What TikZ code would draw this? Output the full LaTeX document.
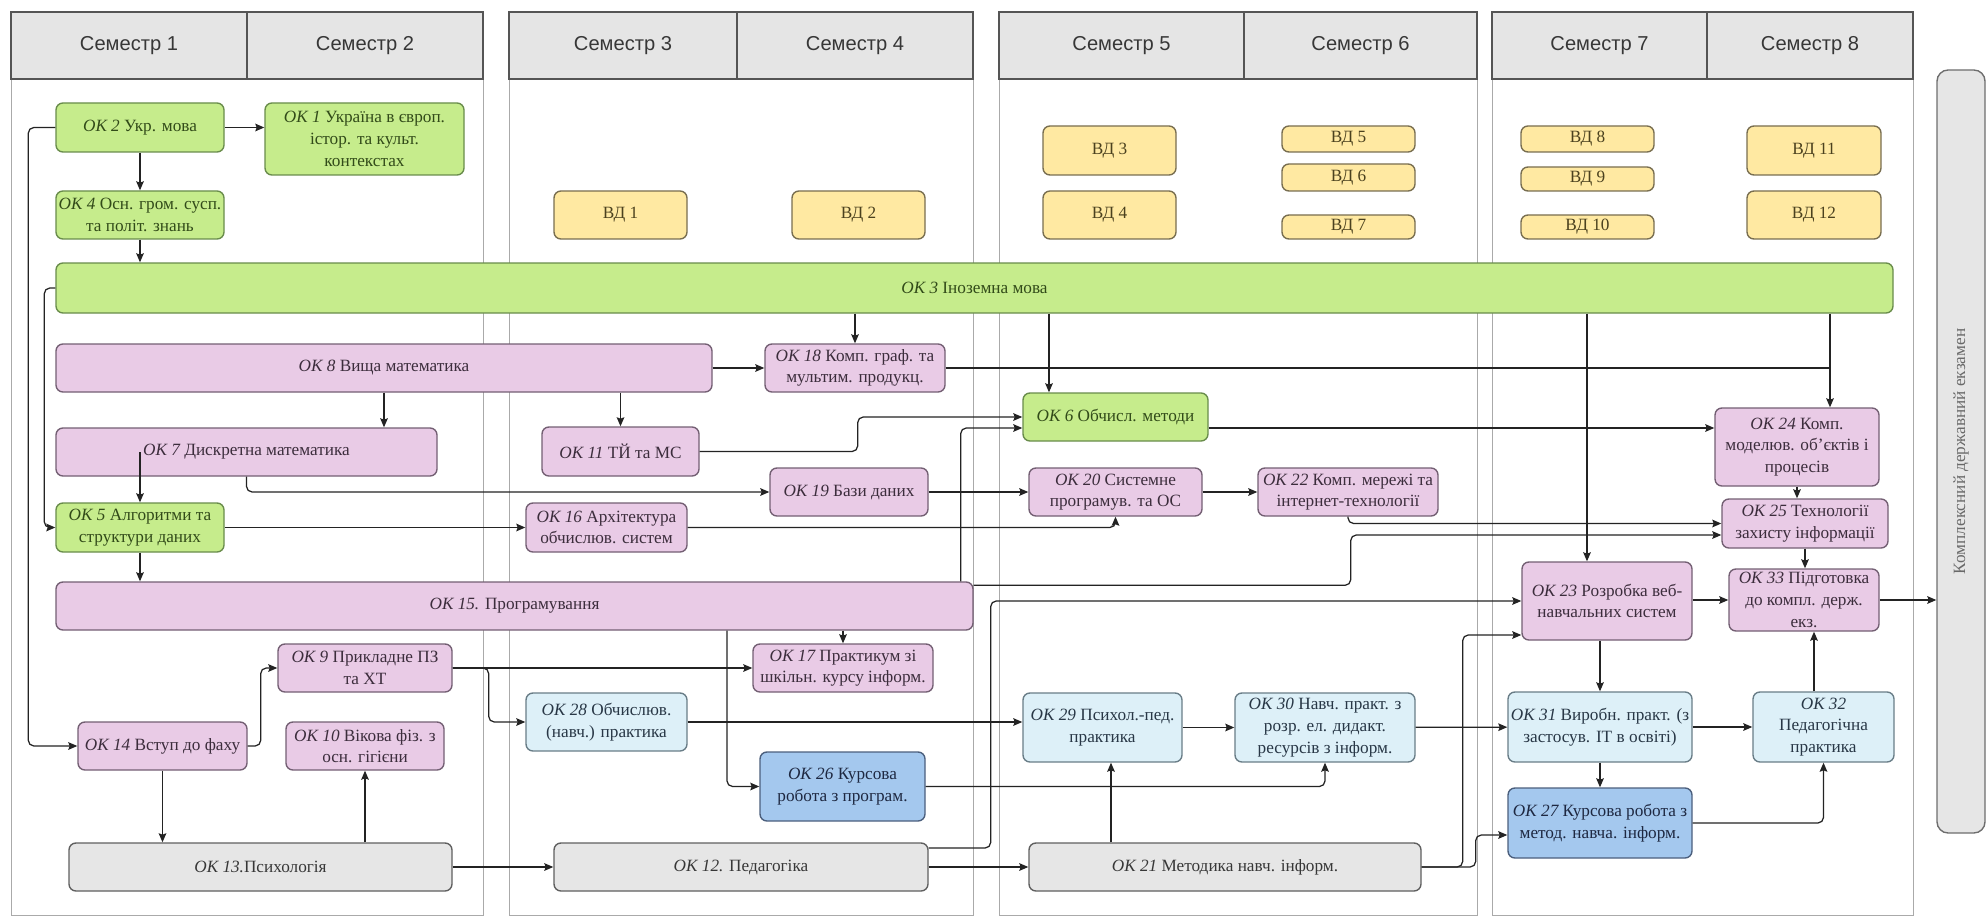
\documentclass[tikz,border=0pt]{standalone}
\usepackage{fontspec}
\setmainfont{Liberation Serif}
\newfontfamily\headfont{Liberation Sans}
\usepackage{tikz}
\usetikzlibrary{arrows.meta,calc}

\definecolor{genfill}{RGB}{198,236,140}
\definecolor{genline}{RGB}{105,140,75}
\definecolor{gentext}{RGB}{50,75,25}
\definecolor{spfill}{RGB}{233,203,230}
\definecolor{spline}{RGB}{115,95,115}
\definecolor{sptext}{RGB}{60,45,60}
\definecolor{elfill}{RGB}{255,233,162}
\definecolor{elline}{RGB}{120,110,80}
\definecolor{eltext}{RGB}{75,65,30}
\definecolor{prfill}{RGB}{221,240,248}
\definecolor{prline}{RGB}{105,125,135}
\definecolor{prtext}{RGB}{40,55,70}
\definecolor{cwfill}{RGB}{164,200,238}
\definecolor{cwline}{RGB}{75,95,125}
\definecolor{cwtext}{RGB}{30,40,65}
\definecolor{pdfill}{RGB}{230,230,230}
\definecolor{pdline}{RGB}{95,95,95}
\definecolor{pdtext}{RGB}{55,55,55}
\definecolor{exline}{RGB}{110,110,110}
\definecolor{extext}{RGB}{105,105,105}
\definecolor{headfill}{RGB}{229,229,229}
\definecolor{headline}{RGB}{85,85,85}
\definecolor{headtext}{RGB}{55,55,55}
\definecolor{panelline}{RGB}{170,170,170}
\definecolor{linecol}{RGB}{35,35,35}

\newcommand{\okn}[1]{{\itshape ОК~#1}}

\begin{document}
\begin{tikzpicture}[x=0.72pt, y=-0.72pt, font=\fontsize{12.4}{15.6}\selectfont, >={Stealth[length=6.5pt,width=5.5pt,inset=1pt]}]
\tikzset{
  wh/.style 2 args={minimum width=#1*0.72pt, minimum height=#2*0.72pt},
  colbody/.style={draw=panelline, line width=0.6pt},
  semhead/.style={draw=headline, fill=headfill, line width=1pt, text=headtext, font=\headfont\fontsize{14.5}{17}\selectfont},
  base/.style={draw, align=center, line width=1pt, rounded corners=5pt, inner sep=1pt},
  general/.style={base, fill=genfill, draw=genline, text=gentext},
  special/.style={base, fill=spfill, draw=spline, text=sptext},
  elective/.style={base, fill=elfill, draw=elline, text=eltext},
  practice/.style={base, fill=prfill, draw=prline, text=prtext},
  coursework/.style={base, fill=cwfill, draw=cwline, text=cwtext},
  pedagogy/.style={base, fill=pdfill, draw=pdline, text=pdtext},
  exam/.style={base, rounded corners=8pt, fill=pdfill, draw=exline, text=extext},
  arrow/.style={->, line width=0.9pt, draw=linecol, rounded corners=4pt},
  wire/.style={line width=0.9pt, draw=linecol, rounded corners=4pt},
}
\useasboundingbox (0,0) rectangle (1987,918);

% Semester columns
\node[colbody, wh={472}{903}] (col12) at (247,463.5) {};
\node[colbody, wh={464}{903}] (col34) at (741,463.5) {};
\node[colbody, wh={478}{903}] (col56) at (1238,463.5) {};
\node[colbody, wh={421}{903}] (col78) at (1702.5,463.5) {};
\node[semhead, wh={236}{67}] (sem1) at (129,45.5) {Семестр 1};
\node[semhead, wh={236}{67}] (sem2) at (365,45.5) {Семестр 2};
\node[semhead, wh={228}{67}] (sem3) at (623,45.5) {Семестр 3};
\node[semhead, wh={236}{67}] (sem4) at (855,45.5) {Семестр 4};
\node[semhead, wh={245}{67}] (sem5) at (1121.5,45.5) {Семестр 5};
\node[semhead, wh={233}{67}] (sem6) at (1360.5,45.5) {Семестр 6};
\node[semhead, wh={215}{67}] (sem7) at (1599.5,45.5) {Семестр 7};
\node[semhead, wh={206}{67}] (sem8) at (1810,45.5) {Семестр 8};

% Electives
\node[elective, wh={133}{48}] (vd1) at (620.5,215) {ВД 1};
\node[elective, wh={133}{48}] (vd2) at (858.5,215) {ВД 2};
\node[elective, wh={133}{49}] (vd3) at (1109.5,150.5) {ВД 3};
\node[elective, wh={133}{48}] (vd4) at (1109.5,215) {ВД 4};
\node[elective, wh={133}{26}] (vd5) at (1348.5,139) {ВД 5};
\node[elective, wh={133}{27}] (vd6) at (1348.5,177.5) {ВД 6};
\node[elective, wh={133}{24}] (vd7) at (1348.5,227) {ВД 7};
\node[elective, wh={133}{26}] (vd8) at (1587.5,139) {ВД 8};
\node[elective, wh={133}{24}] (vd9) at (1587.5,179) {ВД 9};
\node[elective, wh={133}{24}] (vd10) at (1587.5,227) {ВД 10};
\node[elective, wh={134}{49}] (vd11) at (1814,150.5) {ВД 11};
\node[elective, wh={134}{48}] (vd12) at (1814,215) {ВД 12};

% General courses
\node[general, wh={168}{49}] (ok2) at (140,127.5) {\okn{2} Укр. мова};
\node[general, wh={199}{72}] (ok1) at (364.5,139) {\okn{1} Україна в європ.\\істор. та культ.\\контекстах};
\node[general, wh={168}{48}] (ok4) at (140,215) {\okn{4} Осн. гром. сусп.\\та політ. знань};
\node[general, wh={1837}{50}] (ok3) at (974.5,288) {\okn{3} Іноземна мова};
\node[general, wh={168}{49}] (ok5) at (140,527.5) {\okn{5} Алгоритми та\\структури даних};
\node[general, wh={185}{48}] (ok6) at (1115.5,417) {\okn{6} Обчисл. методи};

% Professional courses
\node[special, wh={656}{48}] (ok8) at (384,368) {\okn{8} Вища математика};
\node[special, wh={180}{48}] (ok18) at (855,368) {\okn{18} Комп. граф. та\\мультим. продукц.};
\node[special, wh={381}{48}] (ok7) at (246.5,452) {\okn{7} Дискретна математика};
\node[special, wh={157}{49}] (ok11) at (620.5,451.5) {\okn{11} ТЙ та МС};
\node[special, wh={158}{48}] (ok19) at (849,492) {\okn{19} Бази даних};
\node[special, wh={173}{48}] (ok20) at (1115.5,492) {\okn{20} Системне\\програмув. та ОС};
\node[special, wh={180}{48}] (ok22) at (1348,492) {\okn{22} Комп. мережі та\\інтернет-технології};
\node[special, wh={164}{78}] (ok24) at (1797,447) {\okn{24} Комп.\\моделюв. об’єктів і\\процесів};
\node[special, wh={166}{49}] (ok25) at (1805,523.5) {\okn{25} Технології\\захисту інформації};
\node[special, wh={161}{49}] (ok16) at (606.5,527.5) {\okn{16} Архітектура\\обчислюв. систем};
\node[special, wh={917}{48}] (ok15) at (514.5,606) {\okn{15.} Програмування};
\node[special, wh={170}{78}] (ok23) at (1607,601) {\okn{23} Розробка веб-\\навчальних систем};
\node[special, wh={150}{62}] (ok33) at (1804,600) {\okn{33} Підготовка\\до компл. держ.\\екз.};
\node[special, wh={174}{48}] (ok9) at (365,668) {\okn{9} Прикладне ПЗ\\та ХТ};
\node[special, wh={180}{48}] (ok17) at (843,668) {\okn{17} Практикум зі\\шкільн. курсу інформ.};
\node[special, wh={169}{48}] (ok14) at (162.5,746) {\okn{14} Вступ до фаху};
\node[special, wh={158}{48}] (ok10) at (365,746) {\okn{10} Вікова фіз. з\\осн. гігієни};

% Practice and course works
\node[practice, wh={161}{58}] (ok28) at (606.5,722) {\okn{28} Обчислюв.\\(навч.) практика};
\node[practice, wh={159}{69}] (ok29) at (1102.5,727.5) {\okn{29} Психол.-пед.\\практика};
\node[practice, wh={180}{69}] (ok30) at (1325,727.5) {\okn{30} Навч. практ. з\\розр. ел. дидакт.\\ресурсів з інформ.};
\node[practice, wh={184}{70}] (ok31) at (1600,727) {\okn{31} Виробн. практ. (з\\застосув. ІТ в освіті)};
\node[practice, wh={141}{70}] (ok32) at (1823.5,727) {\okn{32}\\Педагогічна\\практика};
\node[coursework, wh={165}{69}] (ok26) at (842.5,786.5) {\okn{26} Курсова\\робота з програм.};
\node[coursework, wh={184}{70}] (ok27) at (1600,823) {\okn{27} Курсова робота з\\метод. навча. інформ.};

% Psychology and pedagogy
\node[pedagogy, wh={383}{48}] (ok13) at (260.5,867) {\okn{13.}Психологія};
\node[pedagogy, wh={374}{48}] (ok12) at (741,867) {\okn{12.} Педагогіка};
\node[pedagogy, wh={392}{48}] (ok21) at (1225,867) {\okn{21} Методика навч. інформ.};

% Final exam
\node[exam, rotate=90, wh={763}{48}] (exam) at (1961,451.5) {Комплексний державний екзамен};

% Bend points
\coordinate (c6) at (1049,0);
\coordinate (c23) at (1587,0);
\coordinate (c24) at (1830,0);
\coordinate (c26) at (727,0);
\coordinate (c29) at (1111,0);
\coordinate (c32) at (1814,0);
\coordinate (r6) at ($(ok6.east)+(0,11)$);

% Upper arrows
\draw[arrow] (ok2.east) -- (ok2.east -| ok1.west);
\draw[arrow] (ok2) -- (ok4);
\draw[arrow] (ok4) -- (ok4 |- ok3.north);
\draw[arrow] (ok2.west) -- ++(-27,0) |- (ok14.west);
\draw[arrow] (ok3.west) -- ++(-11,0) |- (ok5.west);
\draw[arrow] (ok8) -- (ok8 |- ok7.north);
\draw[arrow] (ok8) -- (ok18);
\draw[arrow] (ok11 |- ok8.south) -- (ok11);
\draw[arrow] (ok7.south) |- (ok19.west);
\draw[arrow] (ok7 -| ok5) -- (ok5);
\draw[arrow] (ok5) -- (ok16);
\draw[arrow] (ok5) -- (ok5 |- ok15.north);
\draw[arrow] (ok3.south -| ok18) -- (ok18);
\draw[arrow] (c6 |- ok3.south) -- (c6 |- ok6.north);
\draw[arrow] (ok11.east) -- ++(158,0) |- (ok6.west);
\draw[arrow] ($(ok15.north east)+(-13,0)$) |- ($(ok6.west)+(0,11)$);
\draw[arrow] (r6) -- (r6 -| ok24.west);
\draw[wire] (ok18.east) -- (c24 |- ok18.east);
\draw[arrow] (c24 |- ok3.south) -- (c24 |- ok24.north);
\draw[arrow] (ok19) -- (ok20);
\draw[arrow] (ok16.east) -| (ok20.south);
\draw[arrow] (ok20) -- (ok22);
\draw[arrow] (ok22.south) |- (ok25.west);
\draw[arrow] ($(ok15.north east)+(0,4)$) -- ++(377,0) |- ($(ok25.west)+(0,11.5)$);
\draw[arrow] (c23 |- ok3.south) -- (c23 |- ok23.north);
\draw[arrow] (ok24.south) -- (ok24.south |- ok25.north);
\draw[arrow] (ok25.south) -- (ok25.south |- ok33.north);
\draw[arrow] (ok33.west -| ok23.east) -- (ok33.west);
\draw[arrow] (ok33) -- (ok33 -| exam.north);

% Lower arrows
\draw[arrow] (ok14) -- (ok14 |- ok13.north);
\draw[arrow] (ok10 |- ok13.north) -- (ok10);
\draw[arrow] (ok14.east) -- ++(13,0) |- (ok9.west);
\draw[arrow] (ok9) -- (ok17);
\draw[arrow] (ok9.east) -- ++(36,0) |- (ok28.west);
\draw[arrow] (ok15.south -| ok17) -- (ok17);
\draw[arrow] (c26 |- ok15.south) |- (ok26.west);
\draw[arrow] (ok28.east) -- (ok28.east -| ok29.west);
\draw[arrow] (ok29) -- (ok30);
\draw[arrow] (ok26.east) -| (ok30.south);
\draw[arrow] (c29 |- ok21.north) -- (c29 |- ok29.south);
\draw[arrow] (ok13) -- (ok12);
\draw[arrow] (ok12) -- (ok21);
\draw[arrow] ($(ok12.east)+(0,-19)$) -- ++(62,0) |- (ok23.west);
\draw[arrow] (ok21.east) -- ++(41,0) |- ($(ok23.west)+(0,34)$);
\draw[arrow] (ok21.east) -- ++(54,0) |- ($(ok27.west)+(0,12)$);
\draw[arrow] (ok30) -- (ok31);
\draw[arrow] (ok23.south -| ok31) -- (ok31);
\draw[arrow] (ok31) -- (ok32);
\draw[arrow] (ok31) -- (ok27);
\draw[arrow] (c32 |- ok32.north) -- (c32 |- ok33.south);
\draw[arrow] (ok27.east) -| (ok32.south);

\end{tikzpicture}
\end{document}
